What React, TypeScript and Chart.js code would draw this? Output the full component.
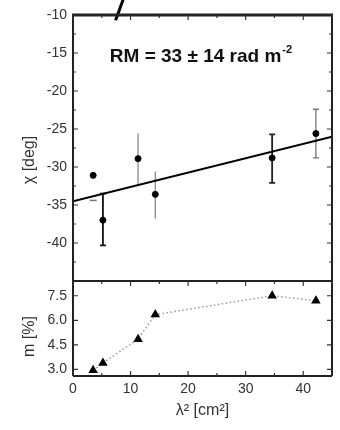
import React, { useEffect, useRef } from "react";
import { Chart, registerables } from "chart.js";
Chart.register(...registerables);

// ---- data ----
const lambda2 = [3.5, 5.2, 11.3, 14.3, 34.6, 42.2];
const chi = [-31.1, -37.0, -28.9, -33.6, -28.8, -25.6];
const chiLow: (number | null)[] = [null, -40.3, -32.2, -36.8, -32.1, -28.8];
const chiHigh: (number | null)[] = [null, -33.5, -25.6, -30.6, -25.7, -22.4];
const loneCapX = [3.5];
const loneCapY = [-34.4];
const fitX = [0, 45];
const fitY = [-34.5, -26.0];
const strayX = [7.4, 8.7];
const strayY = [-10.7, -8.0];
const fracPol = [2.95, 3.4, 4.85, 6.35, 7.5, 7.2];
const xTicks = [0, 10, 20, 30, 40];
const xMinor = [5, 15, 25, 35, 45];
const chiTicks = [-40, -35, -30, -25, -20, -15, -10];
const chiMinor = [-42.5, -37.5, -32.5, -27.5, -22.5, -17.5, -12.5];
const mTicks = [3.0, 4.5, 6.0, 7.5];
const annotation = "RM = 33 \u00b1 14 rad m";
const annotationSup = "-2";
const chiTitle = "\u03c7 [deg]";
const mTitle = "m [%]";
const xTitle = "\u03bb\u00b2 [cm\u00b2]";

// ---- styles ----
const FONT = '"Liberation Sans", Arial, Helvetica, sans-serif';
const errColors = ["#888", "#111", "#888", "#888", "#222", "#777"];
const errCaps = [false, true, false, false, true, true];

const pts = (xs: number[], ys: (number | null)[]) => xs.map((x, i) => ({ x, y: ys[i] as number }));

const decorPlugin = {
  id: "decor",
  beforeDatasetsDraw(chart: any) {
    const ctx = chart.ctx;
    const xs = chart.scales.x;
    const ys = chart.scales.chiAxis;
    ctx.save();
    lambda2.forEach((lx, i) => {
      const lo = chiLow[i];
      const hi = chiHigh[i];
      if (lo == null || hi == null) return;
      const px = xs.getPixelForValue(lx);
      const p1 = ys.getPixelForValue(lo);
      const p2 = ys.getPixelForValue(hi);
      ctx.strokeStyle = errColors[i];
      ctx.lineWidth = errColors[i] === "#888" || errColors[i] === "#777" ? 1.3 : 1.8;
      ctx.beginPath();
      ctx.moveTo(px, p1);
      ctx.lineTo(px, p2);
      if (errCaps[i]) {
        ctx.moveTo(px - 3, p1);
        ctx.lineTo(px + 3, p1);
        ctx.moveTo(px - 3, p2);
        ctx.lineTo(px + 3, p2);
      }
      ctx.stroke();
    });
    ctx.restore();
  },
  afterDraw(chart: any) {
    const ctx = chart.ctx;
    const xs = chart.scales.x;
    const ys = chart.scales.chiAxis;
    const ms = chart.scales.mAxis;
    const left = chart.chartArea.left;
    const right = chart.chartArea.right;
    ctx.save();
    ctx.strokeStyle = "#222";
    // frames
    const tTop = ys.top, tBot = ys.bottom, bTop = ms.top, bBot = ms.bottom;
    ctx.lineWidth = 3;
    ctx.beginPath();
    ctx.moveTo(left - 1, tTop);
    ctx.lineTo(right + 1, tTop);
    ctx.stroke();
    ctx.lineWidth = 2;
    ctx.beginPath();
    ctx.moveTo(left, tTop);
    ctx.lineTo(left, bBot);
    ctx.moveTo(right, tTop);
    ctx.lineTo(right, bBot);
    ctx.moveTo(left, tBot);
    ctx.lineTo(right, tBot);
    ctx.moveTo(left, bBot);
    ctx.lineTo(right, bBot);
    ctx.stroke();
    // ticks
    ctx.lineWidth = 1.2;
    ctx.strokeStyle = "#333";
    ctx.beginPath();
    const vTick = (v: number, len: number) => {
      const px = xs.getPixelForValue(v);
      ctx.moveTo(px, tTop);
      ctx.lineTo(px, tTop + len);
      ctx.moveTo(px, bTop);
      ctx.lineTo(px, bTop + len);
      ctx.moveTo(px, bBot);
      ctx.lineTo(px, bBot - len);
    };
    xTicks.forEach((v) => vTick(v, 5));
    xMinor.forEach((v) => vTick(v, 3));
    const hTick = (sc: any, v: number, len: number) => {
      const py = sc.getPixelForValue(v);
      ctx.moveTo(left, py);
      ctx.lineTo(left + len, py);
      ctx.moveTo(right, py);
      ctx.lineTo(right - len, py);
    };
    chiTicks.forEach((v) => hTick(ys, v, 5));
    chiMinor.forEach((v) => hTick(ys, v, 3));
    mTicks.forEach((v) => hTick(ms, v, 5));
    ctx.stroke();

    // annotation
    ctx.fillStyle = "#111";
    ctx.font = `bold 19px ${FONT}`;
    ctx.textAlign = "left";
    ctx.textBaseline = "alphabetic";
    const ax = xs.getPixelForValue(6.4);
    const ay = ys.getPixelForValue(-16.2);
    ctx.fillText(annotation, ax, ay);
    const w = ctx.measureText(annotation).width;
    ctx.font = `bold 11px ${FONT}`;
    ctx.fillText(annotationSup, ax + w + 1, ay - 9);

    // axis titles
    ctx.fillStyle = "#333";
    ctx.font = `16px ${FONT}`;
    ctx.textAlign = "center";
    ctx.textBaseline = "middle";
    const drawRot = (text: string, x: number, y: number) => {
      ctx.save();
      ctx.translate(x, y);
      ctx.rotate(-Math.PI / 2);
      ctx.fillText(text, 0, 0);
      ctx.restore();
    };
    drawRot(chiTitle, left - 43, (tTop + tBot) / 2 + 12);
    drawRot(mTitle, left - 43, (bTop + bBot) / 2 + 8);
    ctx.fillText(xTitle, (left + right) / 2, bBot + 35);
    ctx.restore();
  },
};

export default function App() {
  const ref = useRef<HTMLCanvasElement | null>(null);
  useEffect(() => {
    if (!ref.current) return;
    const tickFont = { family: FONT, size: 14 };
    const chart = new Chart(ref.current, {
      type: "scatter",
      data: {
        datasets: [
          {
            label: "fit",
            type: "line",
            data: pts(fitX, fitY),
            yAxisID: "chiAxis",
            borderColor: "#000",
            borderWidth: 2,
            pointRadius: 0,
            showLine: true,
            fill: false,
          } as any,
          {
            label: "chi",
            data: pts(lambda2, chi),
            yAxisID: "chiAxis",
            backgroundColor: "#000",
            borderColor: "#000",
            pointRadius: 3,
            pointStyle: "circle",
          },
          {
            label: "cap",
            data: pts(loneCapX, loneCapY),
            yAxisID: "chiAxis",
            pointStyle: "line",
            pointRadius: 3.5,
            borderColor: "#777",
            borderWidth: 1.5,
          },
          {
            label: "stray",
            type: "line",
            data: pts(strayX, strayY),
            yAxisID: "chiAxis",
            borderColor: "#000",
            borderWidth: 3,
            pointRadius: 0,
            clip: false,
            fill: false,
          } as any,
          {
            label: "m",
            type: "line",
            data: pts(lambda2, fracPol),
            yAxisID: "mAxis",
            borderColor: "#999",
            borderWidth: 1.5,
            borderDash: [1.5, 2.5],
            tension: 0,
            pointStyle: "triangle",
            pointRadius: 4,
            pointBackgroundColor: "#000",
            pointBorderColor: "#000",
            fill: false,
          } as any,
        ],
      },
      options: {
        responsive: false,
        animation: false,
        events: [],
        layout: { padding: { left: 0, right: 8, top: 15, bottom: 0 } },
        plugins: { legend: { display: false }, tooltip: { enabled: false } },
        scales: {
          x: {
            type: "linear",
            position: "bottom",
            min: 0,
            max: 45,
            grid: { display: false, drawTicks: false },
            border: { display: false },
            afterBuildTicks: (s: any) => {
              s.ticks = xTicks.map((v) => ({ value: v }));
            },
            afterFit: (s: any) => {
              s.height = 54;
            },
            ticks: {
              font: tickFont,
              color: "#333",
              padding: 5,
              maxRotation: 0,
              autoSkip: false,
              callback: (v: any) => String(v),
            },
          },
          mAxis: {
            type: "linear",
            position: "left",
            stack: "panels",
            stackWeight: 1,
            offset: false,
            min: 2.6,
            max: 8.4,
            grid: { display: false, drawTicks: false },
            border: { display: false },
            afterBuildTicks: (s: any) => {
              s.ticks = mTicks.map((v) => ({ value: v }));
            },
            afterFit: (s: any) => {
              s.width = 73;
            },
            ticks: {
              font: tickFont,
              color: "#333",
              padding: 6,
              autoSkip: false,
              callback: (v: any) => Number(v).toFixed(1),
            },
          },
          chiAxis: {
            type: "linear",
            position: "left",
            stack: "panels",
            stackWeight: 2.8,
            offset: false,
            min: -45,
            max: -10,
            grid: { display: false, drawTicks: false },
            border: { display: false },
            afterBuildTicks: (s: any) => {
              s.ticks = chiTicks.map((v) => ({ value: v }));
            },
            afterFit: (s: any) => {
              s.width = 73;
            },
            ticks: {
              font: tickFont,
              color: "#333",
              padding: 6,
              autoSkip: false,
              callback: (v: any) => String(v),
            },
          },
        } as any,
      },
      plugins: [decorPlugin],
    });
    return () => chart.destroy();
  }, []);
  return (
    <canvas
      ref={ref}
      width={340}
      height={430}
      style={{ position: "fixed", left: 0, top: 0, width: 340, height: 430, background: "#fff" }}
    />
  );
}
